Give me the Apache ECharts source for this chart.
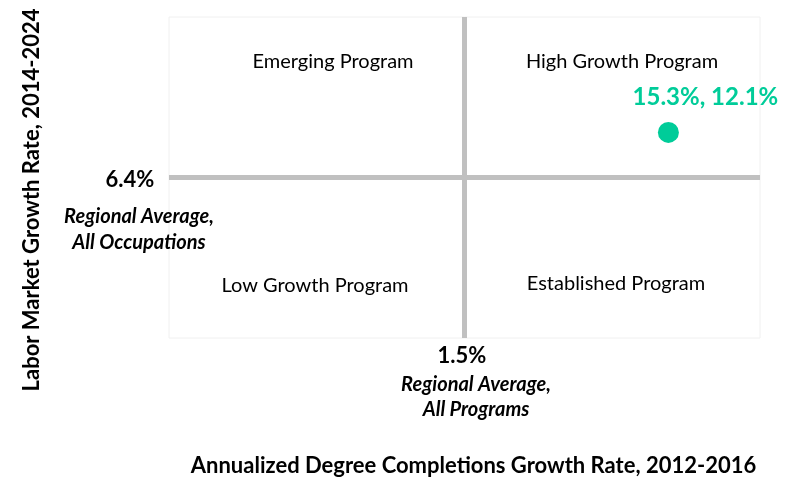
<!DOCTYPE html>
<html>
<head>
<meta charset="utf-8">
<script src="https://cdn.jsdelivr.net/npm/echarts@6/dist/echarts.min.js"></script>
<style>
  html, body { margin: 0; padding: 0; background: #fff; }
  #chart { width: 792px; height: 479px; }
</style>
</head>
<body>
<div id="chart"></div>
<script>
// program point: [completions growth %, labor market growth %]
const programPoint = [15.3, 12.1]
// regional averages (quadrant dividers)
const avgCompletions = 1.5
const avgLabor = 6.4
// axis ranges around the averages
const xRange = [-18.5, 21.5]
const yRange = [-13.9, 26.7]
const quadrantNames = ["Emerging Program", "High Growth Program", "Low Growth Program", "Established Program"]

const FONT = "Lato, 'Open Sans', sans-serif"
const teal = "#00cc99"
const gray = "#c0c0c0"

let myChart = echarts.init(document.getElementById("chart"))

function txt(x, y, text, font) {
  return {
    type: "text",
    x: x,
    y: y,
    style: { text: text, font: font, fill: "#000", align: "center", verticalAlign: "middle" },
  }
}

myChart.setOption({
  animation: false,
  textStyle: { fontFamily: FONT },
  grid: {
    left: 169,
    right: 32,
    top: 17,
    bottom: 141,
    outerBoundsMode: "none",
    containLabel: false,
    show: true,
    borderColor: "#f0f0f0",
    borderWidth: 1,
  },
  xAxis: {
    type: "value",
    min: xRange[0],
    max: xRange[1],
    axisLine: { show: false },
    axisTick: { show: false },
    axisLabel: { show: false },
    splitLine: { show: false },
    name: "Annualized Degree Completions Growth Rate, 2012-2016",
    nameLocation: "middle",
    nameGap: 117,
    nameTextStyle: {
      fontFamily: FONT,
      fontWeight: "bold",
      fontSize: 22,
      color: "#000",
      padding: [0, 0, 0, 18],
    },
  },
  yAxis: {
    type: "value",
    min: yRange[0],
    max: yRange[1],
    axisLine: { show: false },
    axisTick: { show: false },
    axisLabel: { show: false },
    splitLine: { show: false },
    name: "Labor Market Growth Rate, 2014-2024",
    nameLocation: "middle",
    nameRotate: 90,
    nameGap: 126,
    nameTextStyle: {
      fontFamily: FONT,
      fontWeight: "bold",
      fontSize: 22,
      color: "#000",
      padding: [0, 45, 0, 0],
    },
  },
  series: [
    {
      type: "scatter",
      data: [programPoint],
      symbolSize: 21,
      itemStyle: { color: teal, opacity: 1 },
      label: {
        show: true,
        position: "top",
        offset: [37, -8],
        formatter: (p) => p.value[0].toFixed(1) + "%, " + p.value[1].toFixed(1) + "%",
        color: teal,
        fontFamily: FONT,
        fontWeight: "bold",
        fontSize: 24,
      },
      z: 5,
      markLine: {
        silent: true,
        symbol: "none",
        lineStyle: { color: gray, width: 5, type: "solid" },
        label: { show: false },
        data: [{ xAxis: avgCompletions }, { yAxis: avgLabor }],
      },
    },
  ],
  graphic: [
    // quadrant names
    txt(333, 62, quadrantNames[0], "20px " + FONT),
    txt(622, 62, quadrantNames[1], "20px " + FONT),
    txt(315, 286, quadrantNames[2], "20px " + FONT),
    txt(616, 284, quadrantNames[3], "20px " + FONT),
    // averages
    txt(130, 180, avgLabor.toFixed(1) + "%", "bold 22px " + FONT),
    txt(139, 217, "Regional Average,", "italic bold 20px " + FONT),
    txt(139, 243, "All Occupations", "italic bold 20px " + FONT),
    txt(462, 356, avgCompletions.toFixed(1) + "%", "bold 22px " + FONT),
    txt(476, 385, "Regional Average,", "italic bold 20px " + FONT),
    txt(476, 410, "All Programs", "italic bold 20px " + FONT),
  ],
})

window.addEventListener("resize", () => {
  myChart.resize()
})
</script>
</body>
</html>
